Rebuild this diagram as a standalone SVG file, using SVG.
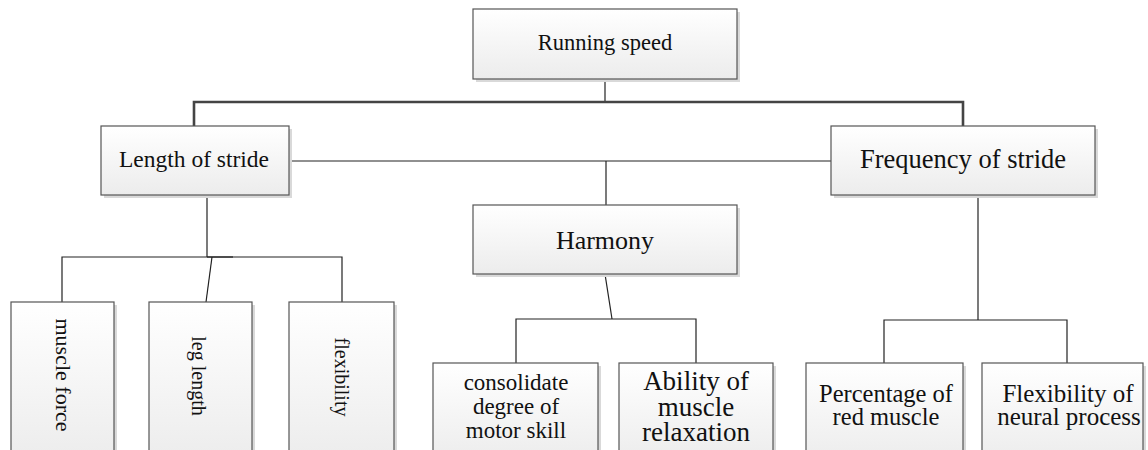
<svg xmlns="http://www.w3.org/2000/svg" width="1148" height="450" viewBox="0 0 1148 450">
<defs>
<linearGradient id="g" x1="0" y1="0" x2="0" y2="1">
<stop offset="0" stop-color="#ffffff"/>
<stop offset="1" stop-color="#ececec"/>
</linearGradient>
</defs>
<style>
.sh{fill:#d9d9d9}
.bx{fill:url(#g);stroke:#555;stroke-width:1.2}
.t{fill:#111;text-anchor:middle}
.c{fill:none;stroke:#222;stroke-width:1.2}
.ct{fill:none;stroke:#444;stroke-width:2.6}
</style>
<rect width="1148" height="450" fill="#fff"/>
<g id="connectors">
<polyline class="c" points="605,79 605,102"/>
<polyline class="ct" points="194,126 194,102 963,102 963,126"/>
<line class="c" x1="289" y1="161" x2="831" y2="161"/>
<line class="c" x1="606" y1="161" x2="606" y2="205"/>
<line class="c" x1="207" y1="195" x2="207" y2="257"/>
<polyline class="c" points="62,302 62,257 342,257 342,302"/>
<line class="c" x1="207" y1="257" x2="233" y2="257"/>
<line class="c" x1="212" y1="257" x2="206" y2="302"/>
<line class="c" x1="605" y1="274" x2="612" y2="319"/>
<polyline class="c" points="516,363 516,319 696,319 696,363"/>
<line class="c" x1="978" y1="195" x2="978" y2="320"/>
<polyline class="c" points="884,363 884,320 1067,320 1067,363"/>
</g>
<g font-family="Liberation Serif, Times New Roman, serif">
<g id="running-speed">
<rect class="sh" x="476" y="12" width="264" height="70"/>
<rect class="bx" x="473" y="9" width="264" height="70"/>
<text class="t" x="605" y="50" font-size="22.5">Running speed</text>
</g>
<g id="length-of-stride">
<rect class="sh" x="104" y="129" width="188" height="69"/>
<rect class="bx" x="101" y="126" width="188" height="69"/>
<text class="t" x="194" y="167" font-size="23.5">Length of stride</text>
</g>
<g id="frequency-of-stride">
<rect class="sh" x="834" y="129" width="264" height="69"/>
<rect class="bx" x="831" y="126" width="264" height="69"/>
<text class="t" x="963" y="168" font-size="26.5">Frequency of stride</text>
</g>
<g id="harmony">
<rect class="sh" x="476" y="208" width="264" height="69"/>
<rect class="bx" x="473" y="205" width="264" height="69"/>
<text class="t" x="605" y="249" font-size="26">Harmony</text>
</g>
<g id="muscle-force">
<rect class="sh" x="14" y="305" width="103" height="160"/>
<rect class="bx" x="11" y="302" width="103" height="160"/>
<text class="t" transform="translate(63.5,375) rotate(90)" dy="0.33em" font-size="22">muscle force</text>
</g>
<g id="leg-length">
<rect class="sh" x="152" y="305" width="103" height="160"/>
<rect class="bx" x="149" y="302" width="103" height="160"/>
<text class="t" transform="translate(199,376) rotate(90)" dy="0.33em" font-size="20">leg length</text>
</g>
<g id="flexibility">
<rect class="sh" x="292" y="305" width="105" height="160"/>
<rect class="bx" x="289" y="302" width="105" height="160"/>
<text class="t" transform="translate(342,377) rotate(90)" dy="0.33em" font-size="20">flexibility</text>
</g>
<g id="consolidate">
<rect class="sh" x="436" y="366" width="165" height="100"/>
<rect class="bx" x="433" y="363" width="165" height="100"/>
<text class="t" font-size="23"><tspan x="516" y="390">consolidate</tspan><tspan x="516" y="414">degree of</tspan><tspan x="516" y="438">motor skill</tspan></text>
</g>
<g id="ability">
<rect class="sh" x="622" y="366" width="154" height="100"/>
<rect class="bx" x="619" y="363" width="154" height="100"/>
<text class="t" font-size="27"><tspan x="696" y="390">Ability of</tspan><tspan x="696" y="416">muscle</tspan><tspan x="696" y="441">relaxation</tspan></text>
</g>
<g id="percentage">
<rect class="sh" x="809" y="366" width="157" height="100"/>
<rect class="bx" x="806" y="363" width="157" height="100"/>
<text class="t" font-size="24.5"><tspan x="886" y="402">Percentage of</tspan><tspan x="886" y="425">red muscle</tspan></text>
</g>
<g id="neural">
<rect class="sh" x="985" y="366" width="161" height="100"/>
<rect class="bx" x="982" y="363" width="161" height="100"/>
<text class="t" font-size="25"><tspan x="1068" y="402">Flexibility of</tspan><tspan x="1069" y="425">neural process</tspan></text>
</g>
</g>
</svg>
